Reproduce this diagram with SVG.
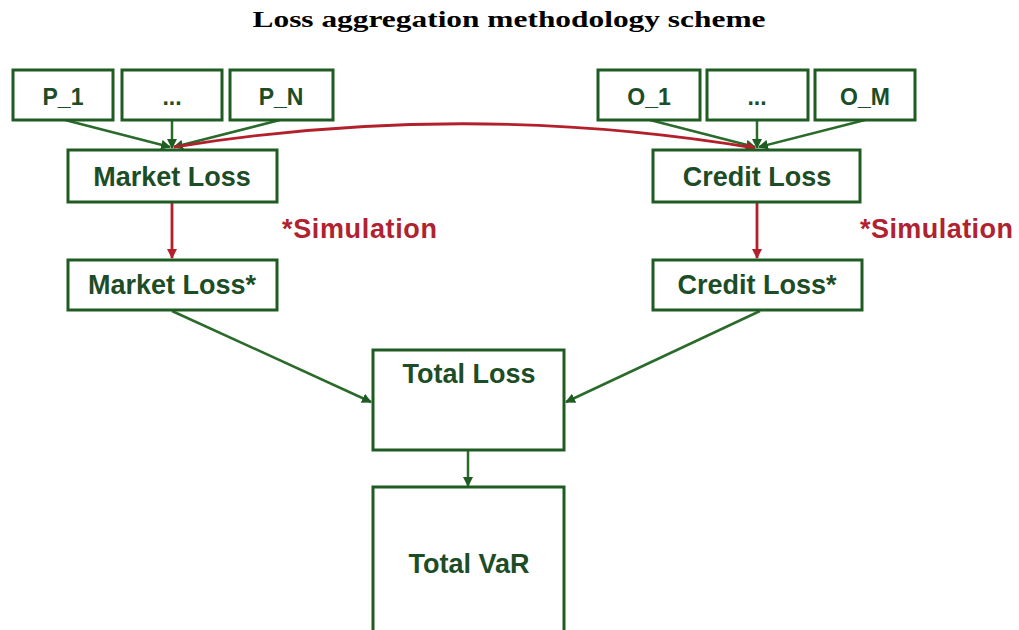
<svg xmlns="http://www.w3.org/2000/svg" width="1019" height="630" viewBox="0 0 1019 630">
<style>
.box{fill:#fff;stroke:#1f5c22;stroke-width:3}
.t{font-family:"Liberation Sans",Arial,sans-serif;font-weight:bold;fill:#1d4d26;text-anchor:middle}
.g{fill:none;stroke:#2a6a2a;stroke-width:2.5}
.r{fill:none;stroke:#b3202c;stroke-width:2.8}
.sim{font-family:"Liberation Sans",Arial,sans-serif;font-weight:bold;fill:#b02230;font-size:27px}
</style>
<defs>
<marker id="ag" markerWidth="10" markerHeight="10" refX="9" refY="5" orient="auto" markerUnits="userSpaceOnUse"><path d="M0,0 L10,5 L0,10 z" fill="#1f5c22"/></marker>
<marker id="ar" markerWidth="10" markerHeight="10" refX="9" refY="5" orient="auto" markerUnits="userSpaceOnUse"><path d="M0,0 L10,5 L0,10 z" fill="#b3202c"/></marker>
</defs>
<rect width="1019" height="630" fill="#fff"/>
<text x="509" y="27" font-family="'Liberation Serif','Times New Roman',serif" font-weight="bold" font-size="23" text-anchor="middle" textLength="513" lengthAdjust="spacingAndGlyphs" fill="#000">Loss aggregation methodology scheme</text>
<g id="connectors">
<path class="g" d="M65,120 L170,147" marker-end="url(#ag)"/>
<path class="g" d="M172,120 L172,148" marker-end="url(#ag)"/>
<path class="g" d="M280,120 L174,147" marker-end="url(#ag)"/>
<path class="g" d="M650,120 L755,147" marker-end="url(#ag)"/>
<path class="g" d="M757,120 L757,148" marker-end="url(#ag)"/>
<path class="g" d="M865,120 L759,147" marker-end="url(#ag)"/>
<path class="r" d="M174,147 Q466,100 755,148" marker-end="url(#ar)"/>
<path class="r" d="M172,203 L172,258" marker-end="url(#ar)"/>
<path class="r" d="M757,203 L757,258" marker-end="url(#ar)"/>
<path class="g" d="M172,311 L371,402" marker-end="url(#ag)"/>
<path class="g" d="M760,311 L566,402" marker-end="url(#ag)"/>
<path class="g" d="M468,451 L468,486" marker-end="url(#ag)"/>
</g>
<text class="sim" x="282" y="238" textLength="155" lengthAdjust="spacing">*Simulation</text>
<text class="sim" x="860" y="238" textLength="153" lengthAdjust="spacing">*Simulation</text>
<g id="p1"><rect class="box" x="13" y="70" width="100" height="50"/><text class="t" x="63" y="105" font-size="23">P_1</text></g>
<g id="pdots"><rect class="box" x="122" y="70" width="100" height="50"/><text class="t" x="172" y="105" font-size="23">...</text></g>
<g id="pn"><rect class="box" x="230" y="70" width="103" height="50"/><text class="t" x="281" y="105" font-size="23">P_N</text></g>
<g id="o1"><rect class="box" x="598" y="70" width="102" height="50"/><text class="t" x="649" y="105" font-size="23">O_1</text></g>
<g id="odots"><rect class="box" x="707" y="70" width="101" height="50"/><text class="t" x="757" y="105" font-size="23">...</text></g>
<g id="om"><rect class="box" x="815" y="70" width="100" height="50"/><text class="t" x="865" y="105" font-size="23">O_M</text></g>
<g id="market-loss"><rect class="box" x="68" y="150" width="209" height="52"/><text class="t" x="172" y="186" font-size="27">Market Loss</text></g>
<g id="credit-loss"><rect class="box" x="653" y="150" width="207" height="52"/><text class="t" x="757" y="186" font-size="27">Credit Loss</text></g>
<g id="market-loss-sim"><rect class="box" x="68" y="260" width="209" height="50"/><text class="t" x="172" y="294" font-size="27">Market Loss*</text></g>
<g id="credit-loss-sim"><rect class="box" x="653" y="260" width="209" height="50"/><text class="t" x="757" y="294" font-size="27">Credit Loss*</text></g>
<g id="total-loss"><rect class="box" x="373" y="350" width="191" height="100"/><text class="t" x="469" y="383" font-size="27">Total Loss</text></g>
<g id="total-var"><rect class="box" x="373" y="487" width="191" height="160"/><text class="t" x="469" y="573" font-size="27">Total VaR</text></g>
</svg>
